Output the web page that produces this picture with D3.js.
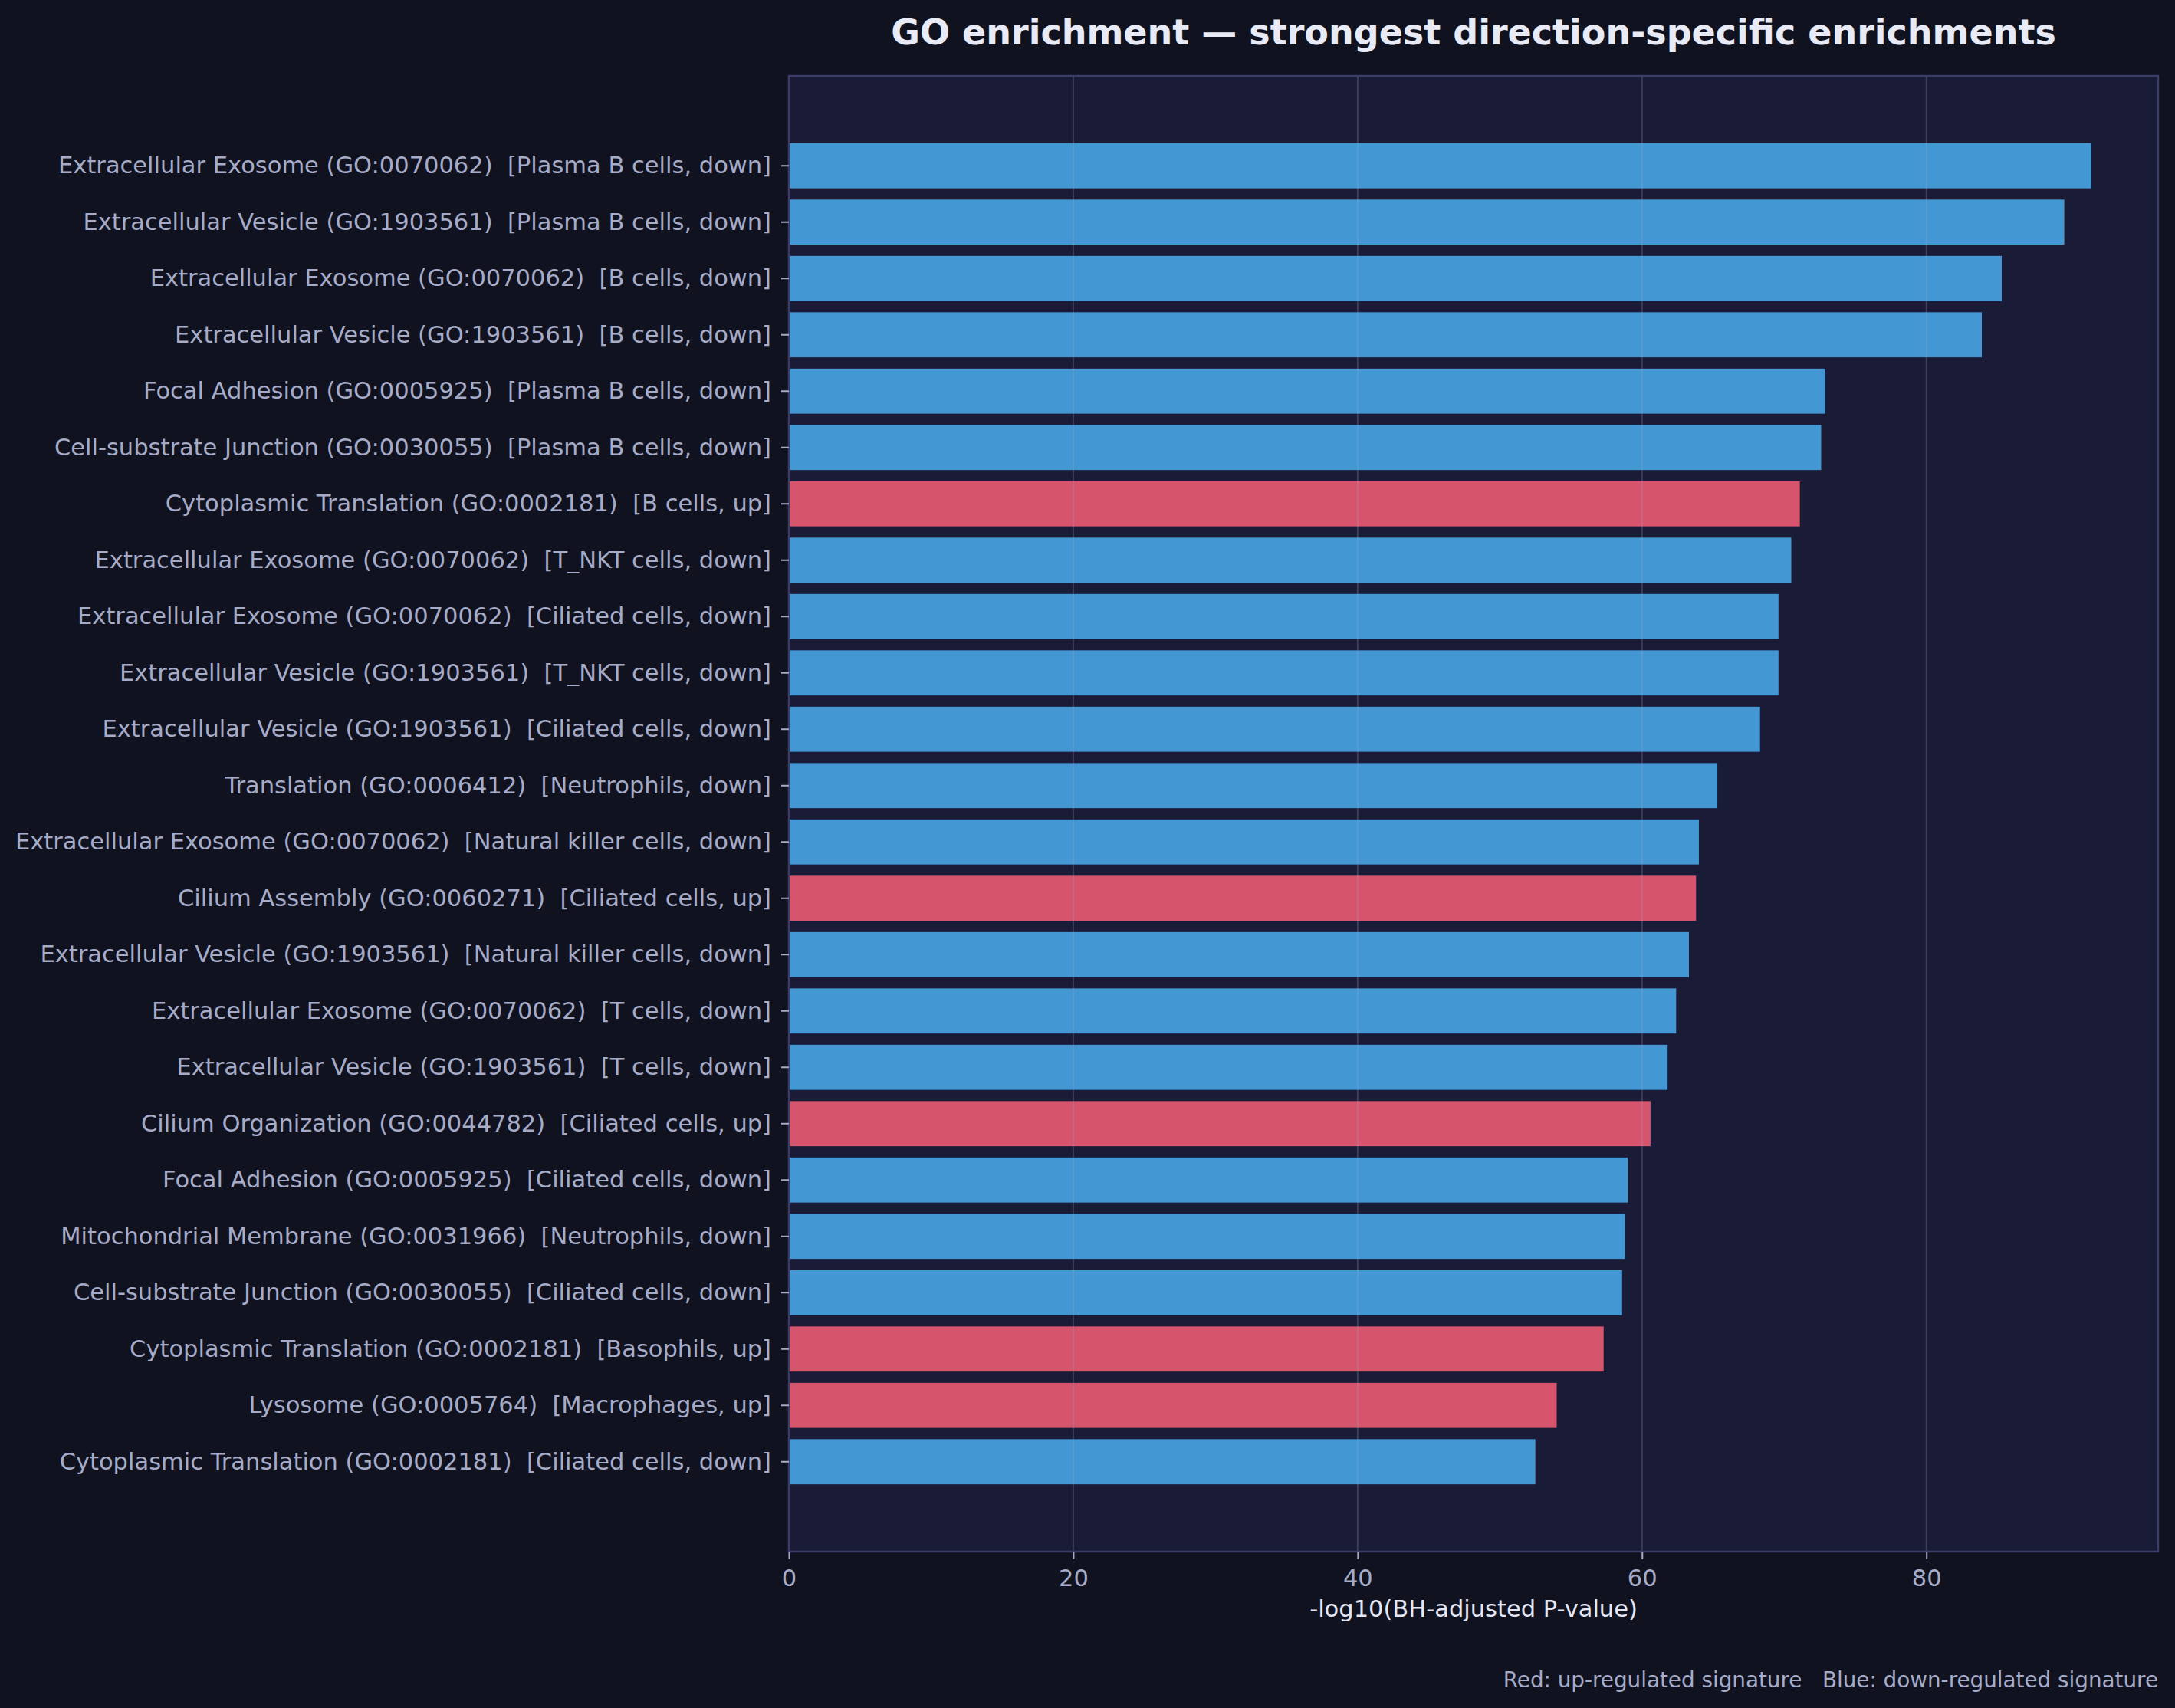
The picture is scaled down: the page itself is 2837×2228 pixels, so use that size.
<!DOCTYPE html>
<html>
<head>
<meta charset="utf-8">
<script src="https://cdn.jsdelivr.net/npm/d3@7"></script>
<style>
  body { margin: 0; background: #10121f; }
  svg { display: block; font-family: "DejaVu Sans", sans-serif; }
  .tick text { white-space: pre; }
</style>
</head>
<body>
<svg id="chart" width="2837" height="2228"></svg>
<script>
"use strict";

// GO terms, top to bottom
var terms = [
  'Extracellular Exosome (GO:0070062)',
  'Extracellular Vesicle (GO:1903561)',
  'Extracellular Exosome (GO:0070062)',
  'Extracellular Vesicle (GO:1903561)',
  'Focal Adhesion (GO:0005925)',
  'Cell-substrate Junction (GO:0030055)',
  'Cytoplasmic Translation (GO:0002181)',
  'Extracellular Exosome (GO:0070062)',
  'Extracellular Exosome (GO:0070062)',
  'Extracellular Vesicle (GO:1903561)',
  'Extracellular Vesicle (GO:1903561)',
  'Translation (GO:0006412)',
  'Extracellular Exosome (GO:0070062)',
  'Cilium Assembly (GO:0060271)',
  'Extracellular Vesicle (GO:1903561)',
  'Extracellular Exosome (GO:0070062)',
  'Extracellular Vesicle (GO:1903561)',
  'Cilium Organization (GO:0044782)',
  'Focal Adhesion (GO:0005925)',
  'Mitochondrial Membrane (GO:0031966)',
  'Cell-substrate Junction (GO:0030055)',
  'Cytoplasmic Translation (GO:0002181)',
  'Lysosome (GO:0005764)',
  'Cytoplasmic Translation (GO:0002181)'
];
var cellTypes = [
  'Plasma B cells', 'Plasma B cells', 'B cells', 'B cells',
  'Plasma B cells', 'Plasma B cells', 'B cells', 'T_NKT cells',
  'Ciliated cells', 'T_NKT cells', 'Ciliated cells', 'Neutrophils',
  'Natural killer cells', 'Ciliated cells', 'Natural killer cells', 'T cells',
  'T cells', 'Ciliated cells', 'Ciliated cells', 'Neutrophils',
  'Ciliated cells', 'Basophils', 'Macrophages', 'Ciliated cells'
];
var directions = [
  'down', 'down', 'down', 'down', 'down', 'down', 'up', 'down',
  'down', 'down', 'down', 'down', 'down', 'up', 'down', 'down',
  'down', 'up', 'down', 'down', 'down', 'up', 'up', 'down'
];
// -log10(BH-adjusted P-value)
var scores = [
  91.6, 89.7, 85.3, 83.9, 72.9, 72.6, 71.1, 70.5,
  69.6, 69.6, 68.3, 65.3, 64.0, 63.8, 63.3, 62.4,
  61.8, 60.6, 59.0, 58.8, 58.6, 57.3, 54.0, 52.5
];
var xTicks = [0, 20, 40, 60, 80];

var rows = terms.map(function(t, i) {
  return {
    label: t + '  [' + cellTypes[i] + ', ' + directions[i] + ']',
    dir: directions[i],
    value: scores[i]
  };
});

var svg = d3.select('#chart');
var plotL = 1029, plotR = 2815, plotT = 99, plotB = 2024;

var x = d3.scaleLinear().domain([0, 96.3]).range([plotL, plotR]);
var y = d3.scaleBand()
  .domain(rows.map(function(d) { return d.label; }))
  .range([plotT, plotB])
  .paddingInner(0.2)
  .paddingOuter(1.195);

// axes background
svg.append('rect')
  .attr('x', plotL).attr('y', plotT)
  .attr('width', plotR - plotL).attr('height', plotB - plotT)
  .attr('fill', '#1a1b36');

svg.append('g').selectAll('rect')
  .data(rows)
  .enter()
  .append('rect')
  .attr('x', x(0))
  .attr('y', function(d) { return y(d.label); })
  .attr('width', function(d) { return x(d.value) - x(0); })
  .attr('height', y.bandwidth())
  .attr('fill', function(d) { return d.dir === 'up' ? '#d6556c' : '#4398d4'; });

// grid sits on top of the bars, like matplotlib's default
svg.append('g').selectAll('line')
  .data(xTicks.slice(1))
  .enter()
  .append('line')
  .attr('x1', function(d) { return x(d); })
  .attr('x2', function(d) { return x(d); })
  .attr('y1', plotT).attr('y2', plotB)
  .attr('stroke', '#a0a4c8')
  .attr('stroke-opacity', 0.25)
  .attr('stroke-width', 2);

// spines
svg.append('rect')
  .attr('x', plotL).attr('y', plotT)
  .attr('width', plotR - plotL).attr('height', plotB - plotT)
  .attr('fill', 'none')
  .attr('stroke', '#3b3c68')
  .attr('stroke-width', 2.5);

var xAxis = svg.append('g')
  .attr('transform', 'translate(0,' + plotB + ')')
  .call(d3.axisBottom(x).tickValues(xTicks).tickFormat(d3.format('d')).tickSize(10).tickPadding(13));
var yAxis = svg.append('g')
  .attr('transform', 'translate(' + plotL + ',0)')
  .call(d3.axisLeft(y).tickSize(10).tickPadding(13));

[xAxis, yAxis].forEach(function(g) {
  g.select('.domain').remove();
  g.selectAll('.tick line').attr('stroke', '#a6abc8').attr('stroke-width', 2);
  g.selectAll('.tick text')
    .attr('fill', '#a6abc8')
    .style('font-size', '30.5px')
    .style('font-family', '"DejaVu Sans", sans-serif');
});

svg.append('text')
  .attr('x', (plotL + plotR) / 2).attr('y', 58)
  .attr('text-anchor', 'middle')
  .attr('fill', '#e8eaf6')
  .style('font-size', '46px')
  .style('font-weight', 'bold')
  .text('GO enrichment \u2014 strongest direction-specific enrichments');

svg.append('text')
  .attr('x', (plotL + plotR) / 2).attr('y', 2109)
  .attr('text-anchor', 'middle')
  .attr('fill', '#e4e6f4')
  .style('font-size', '30.5px')
  .text('-log10(BH-adjusted P-value)');

svg.append('text')
  .attr('x', plotR).attr('y', 2201)
  .attr('text-anchor', 'end')
  .attr('fill', '#a6abc8')
  .style('font-size', '27.8px')
  .style('white-space', 'pre')
  .text('Red: up-regulated signature   Blue: down-regulated signature');
</script>
</body>
</html>
